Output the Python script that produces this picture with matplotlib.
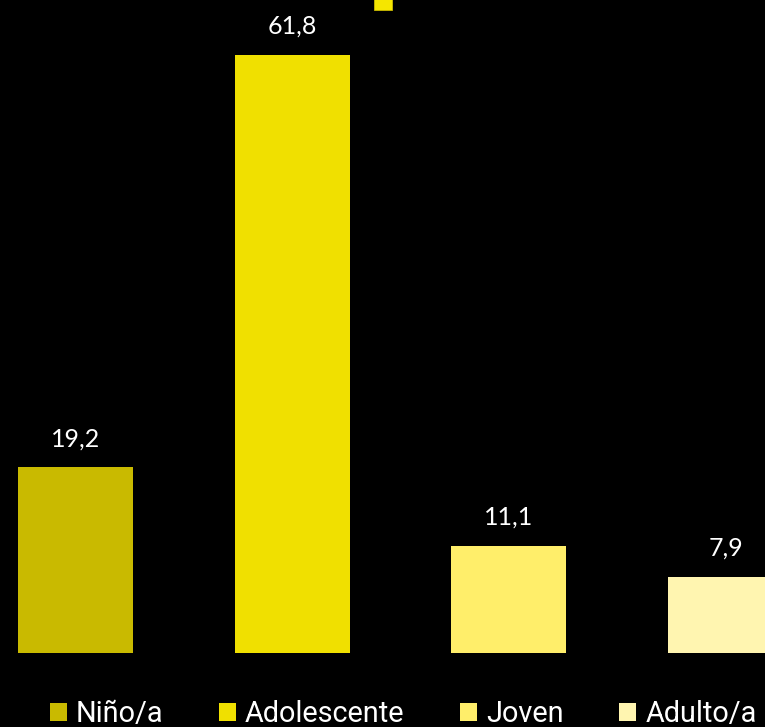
import matplotlib.pyplot as plt
from matplotlib.patches import Rectangle

# data
categories = ["Niño/a", "Adolescente", "Joven", "Adulto/a"]
values = [19.2, 61.8, 11.1, 7.9]
labels = ["19,2", "61,8", "11,1", "7,9"]
colors = ["#C9BA00", "#F0E000", "#FFEE6A", "#FFF5B0"]

fig = plt.figure(figsize=(7.65, 7.27), dpi=100, facecolor="black")
ax = fig.add_axes([0, 74 / 727, 1, 653 / 727])
ax.set_facecolor("black")

for i, (cat, val, lab, col) in enumerate(zip(categories, values, labels, colors)):
    ax.bar(i, val, width=0.531, color=col, label=cat)
    ax.annotate(lab, (i, val), xytext=(0, 20.5), textcoords="offset points",
                ha="center", va="center", color="white", fontsize=18,
                family=["Lato", "DejaVu Sans"])

ax.set_xlim(-75.5 / 216.7, (765 - 75.5) / 216.7)
ax.set_ylim(0, 653 / 9.676)
ax.axis("off")

# small square at top
fig.patches.append(Rectangle((374 / 765, 717 / 727), 18 / 765, 12 / 727,
                             transform=fig.transFigure, facecolor="#F5E600",
                             edgecolor="#C9BA00", linewidth=0.6))

fig.legend(loc="center left", bbox_to_anchor=(50 / 765, 13 / 727), ncol=4,
           frameon=False, borderpad=0, borderaxespad=0,
           handlelength=0.6, handleheight=0.6, handletextpad=0.3,
           columnspacing=1.92,
           prop={"family": ["Roboto", "DejaVu Sans"], "size": 20.8},
           labelcolor="white")

fig.savefig("out.png", dpi=100, facecolor="black")
